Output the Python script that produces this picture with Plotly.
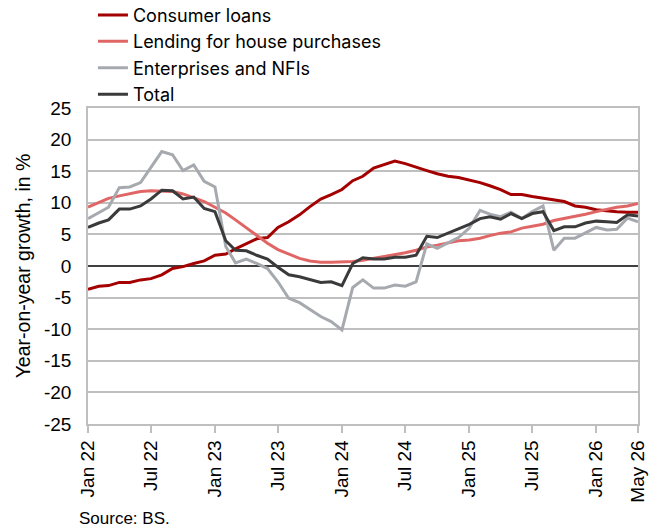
import plotly.graph_objects as go
import pandas as pd

months = pd.date_range("2022-01-01", "2026-05-01", freq="MS")

consumer_loans = [-3.7, -3.2, -3.1, -2.6, -2.6, -2.2, -2.0, -1.4, -0.4, -0.1, 0.4, 0.8,
                  1.7, 1.9, 2.7, 3.5, 4.3, 4.5, 6.1, 7.0, 8.1, 9.4, 10.6, 11.3,
                  12.1, 13.5, 14.2, 15.5, 16.1, 16.6, 16.2, 15.6, 15.1, 14.6, 14.2, 14.0,
                  13.6, 13.2, 12.7, 12.1, 11.3, 11.3, 11.0, 10.7, 10.5, 10.2, 9.5, 9.3,
                  8.9, 8.7, 8.6, 8.5, 8.5]
house_purchases = [9.3, 10.0, 10.7, 11.1, 11.4, 11.8, 11.9, 11.9, 11.8, 11.4, 10.8, 10.2,
                   9.3, 8.4, 7.3, 6.1, 4.9, 3.6, 2.6, 1.9, 1.2, 0.8, 0.6, 0.6,
                   0.6, 0.7, 0.9, 1.2, 1.5, 1.7, 2.1, 2.5, 3.0, 3.3, 3.7, 4.0,
                   4.1, 4.4, 4.8, 5.2, 5.4, 6.0, 6.3, 6.6, 7.2, 7.5, 7.9, 8.2,
                   8.6, 9.0, 9.3, 9.5, 9.9]
enterprises_nfi = [7.5, 8.4, 9.3, 12.4, 12.5, 13.2, 15.7, 18.1, 17.6, 15.1, 16.0, 13.4,
                   12.5, 3.1, 0.5, 1.1, 0.4, -0.4, -2.5, -5.1, -5.8, -6.9, -8.0, -8.8,
                   -10.1, -3.4, -2.2, -3.5, -3.5, -3.0, -3.2, -2.5, 3.5, 2.8, 3.6, 4.5,
                   6.0, 8.8, 8.2, 7.8, 8.5, 7.5, 8.6, 9.5, 2.5, 4.4, 4.4, 5.3,
                   6.1, 5.7, 5.8, 7.6, 7.0]
total = [6.1, 6.8, 7.3, 9.0, 9.0, 9.5, 10.6, 12.0, 11.9, 10.6, 10.9, 9.1,
         8.6, 4.0, 2.5, 2.4, 1.7, 1.1, -0.2, -1.4, -1.7, -2.2, -2.6, -2.5,
         -3.1, 0.4, 1.3, 1.1, 1.1, 1.4, 1.4, 1.7, 4.7, 4.5, 5.2, 6.0,
         6.6, 7.5, 7.8, 7.4, 8.3, 7.5, 8.3, 8.6, 5.6, 6.2, 6.2, 6.8,
         7.1, 7.0, 6.9, 8.1, 7.9]

tick_dates = ["2022-01-01", "2022-07-01", "2023-01-01", "2023-07-01", "2024-01-01",
              "2024-07-01", "2025-01-01", "2025-07-01", "2026-01-01", "2026-05-01"]
tick_labels = ["Jan 22", "Jul 22", "Jan 23", "Jul 23", "Jan 24",
               "Jul 24", "Jan 25", "Jul 25", "Jan 26", "May 26"]
y_ticks = [-25, -20, -15, -10, -5, 0, 5, 10, 15, 20, 25]
y_labels = ["-25", "-20", "-15", "-10", "-5", "0", "5", "10", "15", "20", "25"]

series = [
    ("Consumer loans", consumer_loans, "#A50000"),
    ("Lending for house purchases", house_purchases, "#E06666"),
    ("Enterprises and NFIs", enterprises_nfi, "#A6AAAF"),
    ("Total", total, "#3A3A3A"),
]

fig = go.Figure()
for name, vals, col in series:
    fig.add_trace(go.Scatter(x=months, y=vals, name=name, mode="lines",
                             line=dict(color=col, width=3)))

grid = "#BFBFBF"
fig.update_layout(
    width=651, height=532,
    margin=dict(l=88, r=13, t=108, b=108, autoexpand=False),
    paper_bgcolor="white", plot_bgcolor="white",
    font=dict(family="Liberation Sans, Arial", size=19, color="black"),
    showlegend=True,
    legend=dict(x=0.009, xanchor="left", y=1.352, yanchor="top",
                font=dict(family="Inter", size=18, color="black"),
                tracegroupgap=0, itemwidth=30, bgcolor="rgba(0,0,0,0)"),
    xaxis=dict(
        range=["2022-01-01", "2026-05-01"],
        tickmode="array", tickvals=tick_dates, ticktext=tick_labels,
        tickangle=-90, ticks="outside", ticklen=7, tickcolor=grid, tickwidth=1.5,
        showgrid=False, showline=True, linecolor=grid, linewidth=1.5, mirror=True,
        zeroline=False,
    ),
    yaxis=dict(
        range=[-25, 25], tickmode="array", tickvals=y_ticks, ticktext=y_labels,
        title=dict(text="Year-on-year growth, in %", standoff=8,
                   font=dict(size=19.5)),
        showgrid=True, gridcolor=grid, gridwidth=1.5,
        zeroline=True, zerolinecolor="#404040", zerolinewidth=2,
        showline=True, linecolor=grid, linewidth=1.5, mirror=True,
        ticks="", ticklabelstandoff=11,
    ),
)

fig.add_annotation(text="Source: BS.", xref="paper", yref="paper",
                   x=-0.02, y=-0.30, xanchor="left", yanchor="middle", showarrow=False,
                   font=dict(family="Liberation Sans, Arial", size=17, color="black"))

# drop the default body margin so the figure fills the window exactly
fig.write_html("out.html", config={"displayModeBar": False},
               post_script="document.body.style.margin='0';")
